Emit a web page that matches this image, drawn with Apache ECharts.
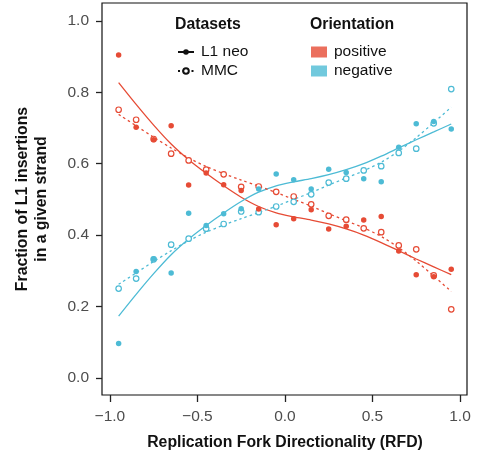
<!DOCTYPE html>
<html><head><meta charset="utf-8">
<script src="https://cdn.jsdelivr.net/npm/echarts@6/dist/echarts.min.js"></script>
<style>html,body{margin:0;padding:0;background:#fff}#c{width:477px;height:456px}</style>
</head><body><div id="c"></div>
<script>
const rfdBins = [-0.95,-0.85,-0.75,-0.65,-0.55,-0.45,-0.35,-0.25,-0.15,-0.05,0.05,0.15,0.25,0.35,0.45,0.55,0.65,0.75,0.85,0.95];
const xTicks = [-1.0,-0.5,0.0,0.5,1.0];
const yTicks = [0.0,0.2,0.4,0.6,0.8,1.0];
// observed fractions
const l1neoPositive = [0.904,0.702,0.667,0.706,0.540,0.574,0.541,0.525,0.473,0.429,0.446,0.471,0.417,0.425,0.442,0.452,0.355,0.289,0.283,0.304];
const l1neoNegative = [0.096,0.298,0.333,0.294,0.461,0.427,0.460,0.474,0.529,0.571,0.555,0.529,0.584,0.575,0.558,0.549,0.646,0.712,0.718,0.697];
const mmcPositive   = [0.751,0.723,0.669,0.628,0.609,0.583,0.570,0.535,0.536,0.521,0.508,0.486,0.454,0.443,0.419,0.408,0.371,0.360,0.287,0.192];
const mmcNegative   = [0.250,0.278,0.332,0.373,0.390,0.418,0.431,0.466,0.464,0.480,0.493,0.514,0.547,0.558,0.581,0.593,0.630,0.642,0.713,0.809];
// fitted curves
const l1neoPositiveFit = [0.827,0.766,0.708,0.655,0.611,0.573,0.538,0.506,0.480,0.462,0.451,0.442,0.431,0.417,0.400,0.379,0.356,0.333,0.311,0.289];
const l1neoNegativeFit = [0.173,0.234,0.292,0.345,0.389,0.427,0.462,0.494,0.520,0.538,0.549,0.558,0.569,0.583,0.600,0.621,0.644,0.667,0.689,0.711];
const mmcPositiveFit   = [0.738,0.706,0.674,0.644,0.616,0.592,0.572,0.554,0.537,0.519,0.500,0.481,0.460,0.440,0.420,0.396,0.365,0.327,0.285,0.242];
const mmcNegativeFit   = [0.262,0.294,0.326,0.356,0.384,0.408,0.428,0.446,0.463,0.481,0.500,0.519,0.540,0.560,0.580,0.604,0.635,0.673,0.715,0.758];

const RED = '#E64B35', BLUE = '#4DBBD5';
const FONT = '"Liberation Sans", Arial, Helvetica, sans-serif';
const pair = arr => rfdBins.map((x,i)=>[x,arr[i]]);
const fmt = v => (v<0?'\u2212':'') + Math.abs(v).toFixed(1);

function fitLine(arr,color,dotted){
  return {type:'line',data:pair(arr),showSymbol:false,symbol:'none',smooth:0.3,silent:true,
    lineStyle:{color,width:1.3,type:dotted?[2.5,3]:'solid'},z:2};
}
function pts(arr,color,open){
  return open ?
    {type:'scatter',data:pair(arr),symbol:'circle',symbolSize:5.5,silent:true,
     itemStyle:{color:'#fff',borderColor:color,borderWidth:1.2,opacity:1},z:3}
   :{type:'scatter',data:pair(arr),symbol:'circle',symbolSize:5.5,silent:true,
     itemStyle:{color:color,opacity:1},z:4};
}

const chart = echarts.init(document.getElementById('c'),null,{renderer:'canvas'});
chart.setOption({
  animation:false,
  backgroundColor:'#fff',
  grid:{left:102,right:10,top:3,bottom:61,show:true,borderColor:'#111',borderWidth:1.2,backgroundColor:'transparent'},
  xAxis:{type:'value',min:-1.045,max:1.04,
    axisLine:{show:false,onZero:false},splitLine:{show:false},
    axisTick:{show:true,length:7,customValues:xTicks,lineStyle:{color:'#222',width:1.3}},
    axisLabel:{customValues:xTicks,formatter:fmt,margin:14,fontSize:15.5,color:'#4D4D4D',fontFamily:FONT}},
  yAxis:{type:'value',min:-0.048,max:1.05,
    axisLine:{show:false,onZero:false},splitLine:{show:false},
    axisTick:{show:true,length:6,customValues:yTicks,lineStyle:{color:'#222',width:1.3}},
    axisLabel:{customValues:yTicks,formatter:fmt,margin:13,fontSize:15.5,color:'#4D4D4D',fontFamily:FONT}},
  legend:[
    {data:['L1 neo','MMC'],orient:'vertical',left:177,top:44,padding:0,itemWidth:16,itemHeight:7,itemGap:3,selectedMode:false,
     textStyle:{fontSize:15.5,color:'#111',fontFamily:FONT,padding:[0,0,0,2]}},
    {data:[{name:'positive',icon:'rect'},{name:'negative',icon:'rect'}],orient:'vertical',left:311,top:44,padding:0,itemWidth:16,itemHeight:11,itemGap:3,selectedMode:false,
     textStyle:{fontSize:15.5,color:'#111',fontFamily:FONT,padding:[0,0,0,2]}}
  ],
  graphic:[
    {type:'text',left:175,top:17,style:{text:'Datasets',font:'bold 15.8px '+FONT,fill:'#111'}},
    {type:'text',left:310,top:17,style:{text:'Orientation',font:'bold 15.8px '+FONT,fill:'#111'}},
    {type:'text',x:32,y:199,rotation:Math.PI/2,style:{text:'Fraction of L1 insertions\nin a given strand',font:'bold 15.8px '+FONT,fill:'#111',align:'center',verticalAlign:'middle',lineHeight:19}},
    {type:'text',x:285,y:443,style:{text:'Replication Fork Directionality (RFD)',font:'bold 15.8px '+FONT,fill:'#111',align:'center',verticalAlign:'middle'}}
  ],
  series:[
    {name:'L1 neo',type:'line',data:[],symbol:'circle',symbolSize:5,itemStyle:{color:'#111'},lineStyle:{color:'#111',width:2}},
    {name:'MMC',type:'line',data:[],symbol:'emptyCircle',symbolSize:5,itemStyle:{color:'#111',borderColor:'#111'},lineStyle:{color:'#111',width:1.3,type:[2,2.5]}},
    {name:'positive',type:'scatter',data:[],itemStyle:{color:RED}},
    {name:'negative',type:'scatter',data:[],itemStyle:{color:BLUE}},
    fitLine(l1neoPositiveFit,RED,false),
    fitLine(l1neoNegativeFit,BLUE,false),
    fitLine(mmcPositiveFit,RED,true),
    fitLine(mmcNegativeFit,BLUE,true),
    pts(mmcPositive,RED,true),
    pts(mmcNegative,BLUE,true),
    pts(l1neoPositive,RED,false),
    pts(l1neoNegative,BLUE,false)
  ]
});
</script></body></html>
